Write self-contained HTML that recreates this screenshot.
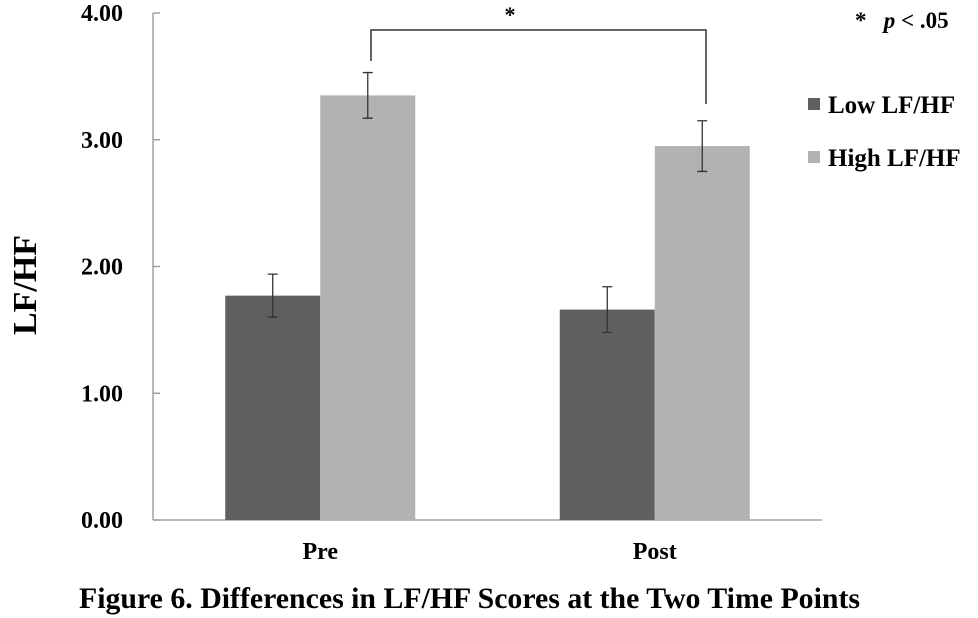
<!DOCTYPE html>
<html><head><meta charset="utf-8"><style>
body{margin:0;background:#fff;}
svg{display:block;font-family:"Liberation Serif",serif;font-weight:bold;}
</style></head><body>
<svg id="chart" width="978" height="618" viewBox="0 0 978 618">
<g id="axes"></g><g id="bars"></g>
<text transform="translate(36,285) rotate(-90)" text-anchor="middle" font-size="34">LF/HF</text>
<path d="M371 61 V30 H706 V104" fill="none" stroke="#333" stroke-width="1.5"/>
<text x="510" y="22" text-anchor="middle" font-size="22">*</text>
<text x="855" y="28" font-size="23">*&#160;&#160;&#160;<tspan font-style="italic">p</tspan> &lt; .05</text>
<rect x="808" y="98" width="12" height="12" fill="#5f5f5f"/>
<text x="828" y="113" font-size="25">Low LF/HF</text>
<rect x="808" y="151" width="12" height="12" fill="#b2b2b2"/>
<text x="828" y="166" font-size="25">High LF/HF</text>
<text x="79" y="608" font-size="30" textLength="781" lengthAdjust="spacingAndGlyphs">Figure 6. Differences in LF/HF Scores at the Two Time Points</text>
</svg>
<script>
const categories=["Pre","Post"];
const lowValues=[1.77,1.66];
const highValues=[3.35,2.95];
const lowErrors=[0.17,0.18];
const highErrors=[0.18,0.20];
const yTicks=[0,1,2,3,4];
const tickLabels=["0.00","1.00","2.00","3.00","4.00"];
const NS="http://www.w3.org/2000/svg";
const y0=520,y1=13,x0=153,x1=822;
const y=v=>y0-(v/4)*(y0-y1);
const bw=95;
const groupW=(x1-x0)/categories.length;
const cx=i=>x0+groupW*(i+0.5);
function mk(tag,attrs,parent){const e=document.createElementNS(NS,tag);for(const k in attrs)e.setAttribute(k,attrs[k]);parent.appendChild(e);return e;}
const axes=document.getElementById('axes'),bars=document.getElementById('bars');
let a=mk('line',{x1:x0,y1:y1,x2:x0,y2:y0,stroke:'#a0a0a0','stroke-width':1.5},axes);


a=mk('line',{x1:x0,y1:y0,x2:x1,y2:y0,stroke:'#a0a0a0','stroke-width':1.5},axes);


yTicks.forEach((t,i)=>{
 const l=mk('line',{x1:x0,y1:y(t),x2:x0+7,y2:y(t),stroke:'#a0a0a0','stroke-width':1.5},axes);
 
 
 const tx=mk('text',{x:123,y:y(t)+8,'text-anchor':'end','font-size':24},axes);
 tx.textContent=tickLabels[i];
 
 
});
categories.forEach((c,i)=>{
 const tx=mk('text',{x:cx(i),y:559,'text-anchor':'middle','font-size':24},axes);
 tx.textContent=c;
 
 
 [[lowValues,lowErrors,'#5f5f5f',-bw,'low'],[highValues,highErrors,'#b2b2b2',0,'high']].forEach(([vals,errs,col,off,nm])=>{
  const bx=cx(i)+off;
  const r=mk('rect',{x:bx,y:y(vals[i]),width:bw,height:y0-y(vals[i]),fill:col},bars);
  
  
  const mx=bx+bw/2,t=y(vals[i]+errs[i]),b=y(vals[i]-errs[i]);
  const e=mk('path',{d:`M${mx} ${t}V${b}M${mx-5} ${t}H${mx+5}M${mx-5} ${b}H${mx+5}`,stroke:'#333','stroke-width':1.3,fill:'none'},bars);
  
  
 });
});
</script>
</body></html>
